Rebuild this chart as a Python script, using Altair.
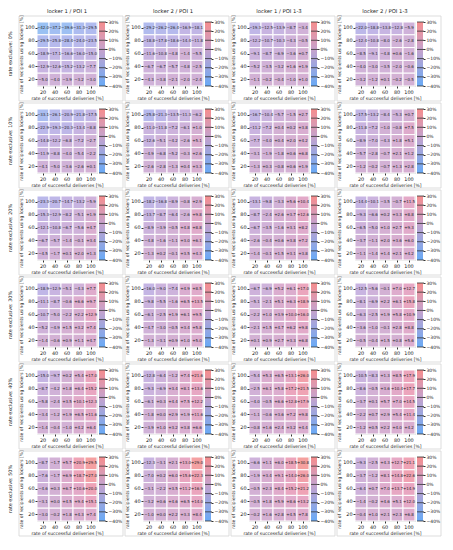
import altair as alt
import pandas as pd

X_TICKS = [20, 40, 60, 80, 100]
Y_TICKS = [100, 80, 60, 40, 20]  # top to bottom
COL_TITLES = ["locker 1 / POI 1", "locker 2 / POI 1", "locker 1 / POI 1-3", "locker 2 / POI 1-3"]
ROW_TITLES = ["rate exclusive: 0%", "rate exclusive: 10%", "rate exclusive: 20%",
              "rate exclusive: 30%", "rate exclusive: 40%", "rate exclusive: 50%"]
CBAR_TICKS = [-40, -30, -20, -10, 0, 10, 20, 30]
CBAR_RANGE = [-40, 30]

# rows: y = 100, 80, 60, 40, 20 ; columns: x = 20, 40, 60, 80, 100
R0_C0 = [[-42.0, -37.2, -39.6, -31.3, -29.5], [-29.5, -25.8, -28.4, -24.0, -23.5],
         [-18.9, -17.1, -16.6, -16.0, -15.0], [-12.9, -12.6, -15.2, -13.2, -7.7],
         [-5.0, -4.0, -3.9, -3.2, -3.0]]
R0_C1 = [[-29.2, -26.2, -26.4, -16.9, -18.1], [-18.8, -17.8, -18.6, -14.4, -11.8],
         [-11.6, -10.8, -4.8, -1.4, -5.5], [-6.7, -6.7, -5.7, -4.8, -2.5],
         [-4.3, -3.8, -2.1, -2.0, -2.4]]
R0_C2 = [[-19.3, -12.5, -13.9, -8.7, -3.4], [-12.2, -10.7, -10.3, -4.3, -0.5],
         [-9.1, -8.7, -6.9, -3.6, 0.7], [-5.2, -3.5, -3.2, 1.6, 1.9],
         [-1.1, -0.2, -0.4, -1.0, 1.0]]
R0_C3 = [[-22.0, -18.8, -13.8, -12.8, -5.9], [-12.4, -10.8, -8.0, -2.6, -2.8],
         [-8.5, -9.1, -4.8, 0.6, -1.6], [-4.0, -3.0, -3.5, -2.0, -0.6],
         [-3.2, -1.2, 0.1, -0.2, -0.5]]

R1_C0 = [[-33.1, -26.1, -20.9, -21.8, -17.5], [-22.9, -19.3, -20.3, -13.4, -8.8],
         [-14.8, -12.2, -6.8, -7.2, -2.7], [-11.9, -8.8, -4.0, -5.4, -2.2],
         [-4.1, -5.0, -3.6, -2.6, 0.1]]
R1_C1 = [[-25.8, -21.3, -13.5, -11.3, -6.2], [-11.0, -11.8, -7.2, -6.1, 1.0],
         [-12.6, -5.1, -4.2, -2.6, 5.1], [-4.9, -6.8, -5.2, -0.3, 2.6],
         [-2.6, -2.8, -1.3, 0.4, 3.3]]
R1_C2 = [[-16.7, -10.4, -5.7, -1.5, 2.7], [-11.2, -7.2, 0.4, 0.2, 3.8],
         [-7.7, -4.0, 0.4, 2.0, 4.2], [-3.1, -1.9, -1.8, 0.6, 6.8],
         [-1.3, 0.3, -0.8, 0.6, 1.9]]
R1_C3 = [[-17.5, -13.2, -8.4, -5.3, 0.7], [-11.8, -7.2, -1.0, -0.8, 7.5],
         [-8.9, -7.0, -4.3, 1.8, 5.1], [-5.7, -2.8, -0.7, 2.1, 1.2],
         [-1.2, -0.2, -0.7, 1.3, 2.8]]

R2_C0 = [[-23.3, -20.7, -14.7, -13.2, -5.9], [-15.3, -12.9, -8.2, -5.1, 1.9],
         [-12.1, -10.8, -6.7, -5.6, 4.7], [-6.7, -5.7, -1.4, -0.1, 3.4],
         [-4.5, -1.7, 0.1, 2.0, 1.3]]
R2_C1 = [[-18.2, -16.8, -8.9, -0.8, 2.9], [-13.7, -8.7, -6.4, -2.6, 9.8],
         [-8.9, -3.9, -0.5, 4.8, 8.8], [-4.8, -1.6, -1.1, 3.0, 6.1],
         [-1.3, 0.2, -0.1, 3.5, 4.3]]
R2_C2 = [[-13.1, -9.8, -3.3, 5.6, 10.4], [-8.7, -2.4, 2.6, 3.7, 12.6],
         [-6.7, -3.5, -1.6, 3.1, 8.2], [-2.6, -0.4, 0.6, 3.8, 7.2],
         [-1.4, -0.1, 1.5, 3.1, 3.8]]
R2_C3 = [[-14.4, -10.1, -3.5, -0.7, 11.5], [-9.3, -6.6, 0.2, 3.3, 8.8],
         [-6.5, -5.0, 1.0, 2.7, 9.3], [-3.7, -1.1, 2.0, 3.6, 6.0],
         [-1.1, -1.4, 1.4, 2.1, 4.2]]

R3_C0 = [[-18.9, -12.9, -5.1, -4.3, 7.7], [-11.1, -8.7, -0.6, 6.6, 9.7],
         [-10.7, -5.0, -2.2, 2.2, 12.9], [-5.2, -4.9, 1.5, 3.2, 7.4],
         [-1.4, -0.6, 0.9, 1.1, 4.7]]
R3_C1 = [[-16.0, -9.0, -7.4, 4.9, 8.5], [-9.8, -5.5, -1.6, 6.5, 13.5],
         [-6.1, -2.5, 1.9, 6.1, 9.5], [-4.7, -3.0, -0.5, 3.4, 5.8],
         [-1.3, -3.1, 0.9, 1.0, 5.0]]
R3_C2 = [[-6.7, -6.9, 5.2, 6.1, 17.0], [-5.1, -2.1, 5.1, 6.3, 18.9],
         [-2.2, 1.0, 3.9, 10.0, 16.0], [-2.1, 1.5, 4.7, 6.2, 9.8],
         [0.1, 0.9, 2.7, 3.3, 6.8]]
R3_C3 = [[-12.5, -5.6, -0.1, 7.0, 12.7], [-8.1, -6.9, 2.2, 6.1, 15.8],
         [-6.3, -2.5, 1.9, 5.8, 10.9], [-3.6, -1.0, -0.1, 2.8, 8.8],
         [-0.5, -0.4, 1.5, 0.8, 5.6]]

R4_C0 = [[-15.0, -9.7, 0.2, 5.4, 17.0], [-8.7, -4.2, 1.8, 6.4, 15.2],
         [-5.8, -2.4, 3.5, 10.1, 12.3], [-3.4, -1.2, 1.9, 6.5, 11.6],
         [-1.4, -0.4, -1.0, 4.2, 6.4]]
R4_C1 = [[-12.8, -6.4, -1.2, 7.4, 21.6], [-9.3, -6.9, 3.4, 8.1, 13.6],
         [-6.1, 0.3, 4.4, 7.5, 12.2], [-1.8, 0.0, 2.9, 1.9, 11.6],
         [-3.9, 1.0, 3.2, 3.8, 6.6]]
R4_C2 = [[-5.4, 5.3, 6.5, 13.1, 26.0], [-2.5, 6.1, 5.8, 17.2, 21.5],
         [-4.0, -0.5, 6.6, 12.8, 17.9], [-1.1, -0.6, 3.6, 7.2, 9.8],
         [-0.8, 1.6, 2.4, 3.2, 4.4]]
R4_C3 = [[-10.5, -8.3, 1.3, 8.5, 17.9], [-8.6, -0.5, 3.6, 10.4, 17.7],
         [-3.7, 0.1, 5.7, 7.0, 14.5], [-2.2, 0.7, 2.9, 5.4, 11.4],
         [-1.2, 0.5, 2.2, 4.0, 4.2]]

R5_C0 = [[-8.7, -1.7, 5.7, 20.9, 29.5], [-7.6, -1.7, 6.9, 18.7, 27.0],
         [-4.6, 0.3, 6.7, 10.6, 20.0], [-3.1, 0.0, 4.5, 9.4, 15.1],
         [-3.0, -0.2, 1.8, 4.3, 7.4]]
R5_C1 = [[-12.3, -3.1, 2.1, 13.0, 29.0], [-7.0, 0.2, 6.0, 15.6, 22.3],
         [-3.1, -2.2, 3.5, 11.2, 16.9], [-3.2, 0.6, 4.6, 6.5, 14.0],
         [-1.0, 0.0, 2.2, 3.3, 8.4]]
R5_C2 = [[-6.6, 1.1, 6.0, 18.5, 30.8], [-1.9, 3.4, 9.1, 14.0, 26.0],
         [-0.5, 2.3, 8.4, 15.2, 21.2], [-0.5, 1.8, 5.9, 8.6, 13.2],
         [-0.2, 1.6, 2.8, 4.5, 7.8]]
R5_C3 = [[-9.3, -2.5, 4.3, 12.7, 21.1], [-3.7, -1.2, 8.1, 14.8, 22.6],
         [-6.4, 0.7, 7.0, 13.7, 14.9], [-1.4, -0.2, 4.6, 5.1, 12.0],
         [-0.4, 1.0, 2.1, 2.3, 6.8]]

PANELS = [
    [R0_C0, R0_C1, R0_C2, R0_C3],
    [R1_C0, R1_C1, R1_C2, R1_C3],
    [R2_C0, R2_C1, R2_C2, R2_C3],
    [R3_C0, R3_C1, R3_C2, R3_C3],
    [R4_C0, R4_C1, R4_C2, R4_C3],
    [R5_C0, R5_C1, R5_C2, R5_C3],
]

W, H = 60, 64
CB_GAP, CB_W = 2, 6
COL_GAP, ROW_GAP = 46, 23
FRAME = (-18, W + 26, -6, H + 15)  # left, right, top, bottom around the heat map
FONT = "DejaVu Sans"
FS = 4.9
CELL_FS = 4.0
CELL_COLORS = ["#9dc0f3", "#d3b1d4", "#f4a0a0"]
CBAR_COLORS = ["#69aaf6", "#c6a2cc", "#f68d8d"]
ZERO_POS = (0 - CBAR_RANGE[0]) / (CBAR_RANGE[1] - CBAR_RANGE[0])


def fmt(v):
    return f"{v:+.1f}".replace("-", "\u2212")


recs = []
for r in range(6):
    for c in range(4):
        vals = PANELS[r][c]
        for i, yv in enumerate(Y_TICKS):
            for j, xv in enumerate(X_TICKS):
                recs.append({"rate": ROW_TITLES[r], "cfg": COL_TITLES[c], "kind": "cell",
                             "x": xv, "y": yv, "v": vals[i][j], "lab": fmt(vals[i][j])})
        for t in CBAR_TICKS:
            recs.append({"rate": ROW_TITLES[r], "cfg": COL_TITLES[c], "kind": "tick", "t": t})
df = pd.DataFrame(recs)


def axis(**kw):
    return alt.Axis(domain=False, tickSize=2, labelPadding=1, titlePadding=1.5,
                    labelFontSize=FS, titleFontSize=4.5, titleFontWeight="normal",
                    tickColor="#333", labelColor="#222", titleColor="#222", **kw)


# panel frame
frame = alt.Chart().transform_filter("datum.kind == 'tick' && datum.t == -40").mark_rect(
    fillOpacity=0, stroke="#d4d4d4", strokeWidth=0.8).encode(
    x=alt.value(FRAME[0]), x2=alt.value(FRAME[1]),
    y=alt.value(FRAME[2]), y2=alt.value(FRAME[3]))

cell_scale = alt.Scale(domain=[CBAR_RANGE[0], 0, CBAR_RANGE[1]], range=CELL_COLORS)
xenc = alt.X("x:O", sort=X_TICKS, title="rate of successful deliveries [%]",
             axis=axis(labelAngle=0))
yenc = alt.Y("y:O", sort=Y_TICKS, title="rate of recipients using lockers [%]", axis=axis())

base = alt.Chart().transform_filter("datum.kind == 'cell'")
rect = base.mark_rect(stroke="white", strokeWidth=1).encode(
    x=xenc, y=yenc, color=alt.Color("v:Q", scale=cell_scale, legend=None))
text = base.mark_text(fontSize=CELL_FS, color="#2a2a2a", font=FONT).encode(
    x=alt.X("x:O", sort=X_TICKS), y=alt.Y("y:O", sort=Y_TICKS), text="lab:N")
heat = alt.layer(rect, text)

grad = alt.Gradient(gradient="linear", x1=0, x2=0, y1=1, y2=0, stops=[
    alt.GradientStop(offset=0, color=CBAR_COLORS[0]),
    alt.GradientStop(offset=ZERO_POS, color=CBAR_COLORS[1]),
    alt.GradientStop(offset=1, color=CBAR_COLORS[2]),
])
cb_scale = alt.Scale(domain=CBAR_RANGE, range=[H, 0], nice=False, zero=False)
cb_axis = alt.Axis(orient="right", offset=CB_GAP + CB_W, values=CBAR_TICKS, title=None,
                   domain=False, grid=False, tickSize=2, labelPadding=1, labelFontSize=4.5,
                   tickColor="#333", labelColor="#222", labelOverlap=False, labelFlush=False,
                   labelExpr="(datum.value < 0 ? '\u2212' + abs(datum.value) : datum.value) + '%'")
cbar = alt.Chart().transform_filter("datum.kind == 'tick' && datum.t == -40").mark_rect(
    color=grad).encode(
    x=alt.value(W + CB_GAP), x2=alt.value(W + CB_GAP + CB_W),
    y=alt.value(0), y2=alt.value(H))
cticks = alt.Chart().transform_filter("datum.kind == 'tick'").mark_rule(
    color="#333", strokeWidth=0.8).encode(
    x=alt.value(W + CB_GAP), x2=alt.value(W + CB_GAP + CB_W + 1),
    y=alt.Y("t:Q", scale=cb_scale, axis=cb_axis))
cb = alt.layer(cbar, cticks)

panel = alt.layer(frame, heat, cb).resolve_scale(y="independent").properties(width=W, height=H)

chart = panel.facet(
    data=df,
    row=alt.Row("rate:N", sort=ROW_TITLES, title=None,
                header=alt.Header(labelAngle=-90, labelOrient="left", labelFontSize=FS,
                                  labelPadding=21, labelColor="#222")),
    column=alt.Column("cfg:N", sort=COL_TITLES, title=None,
                      header=alt.Header(labelFontSize=5.3, labelPadding=8, labelColor="#222")),
    spacing={"row": ROW_GAP, "column": COL_GAP},
    bounds="flush",
).resolve_axis(x="independent", y="independent").properties(padding=0).configure_view(
    stroke=None).configure(font=FONT)

chart.save("out.html", embed_options={"renderer": "svg", "actions": False})
